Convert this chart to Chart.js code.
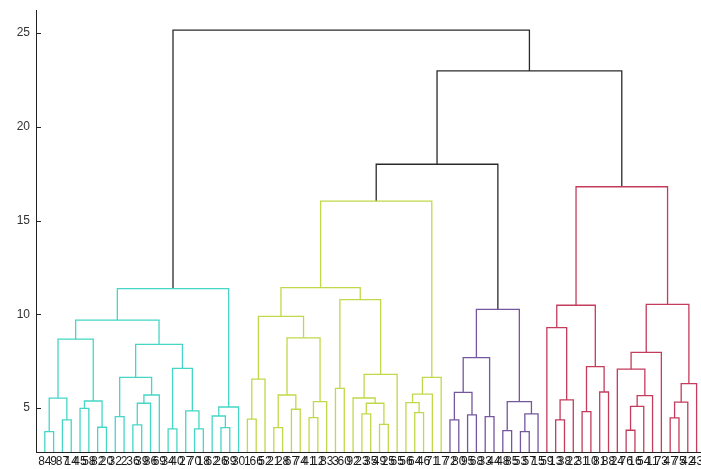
<!DOCTYPE html>
<html>
<head>
<meta charset="utf-8">
<script src="https://cdn.jsdelivr.net/npm/chart.js@4/dist/chart.umd.min.js"></script>
<style>
  html, body { margin: 0; padding: 0; background: #fff; }
  canvas { display: block; }
</style>
</head>
<body>
<canvas id="c" width="701" height="469"></canvas>
<script>
// Leaf labels, left to right in dendrogram order
const leafLabels = [
  '84','9','87','14','45','58','82','20','32','2','36','39','86','69','34','40','27','70','18','62','26','89','30',
  '1','66','52','21','28','67','74','41','12','83','3','60','92','23','35','49','25','65','56','64','46','71','17',
  '72','80','95','68','33','44','48','85','53','57','15',
  '59','13','38','22','31','10','81','88','24','76','16','54','11','73','47','75','42','43'
];

// Linkage: nodes 1..75 are leaves (in display order), node 75+k is the k-th merge
const mergeLeft = [
  1, 3, 76, 5, 7, 79, 78, 9, 11, 84, 85, 83, 15, 18, 17, 88, 87, 82, 21, 20, 95, 93,
  24, 98, 27, 29, 100, 31, 103, 102, 99, 34, 37, 39, 108, 36, 111, 107, 106, 43, 42, 116, 117, 114,
  47, 49, 120, 51, 122, 53, 55, 126, 125, 124,
  59, 130, 58, 62, 64, 133, 132, 67, 137, 138, 66, 140, 72, 142, 143, 141, 136,
  119, 147, 97
];
const mergeRight = [
  2, 4, 77, 6, 8, 80, 81, 10, 12, 13, 14, 86, 16, 19, 89, 90, 91, 92, 22, 94, 23, 96,
  25, 26, 28, 30, 101, 32, 33, 104, 105, 35, 38, 40, 109, 110, 41, 112, 113, 44, 115, 45, 46, 118,
  48, 50, 121, 52, 123, 54, 56, 57, 127, 128,
  60, 61, 131, 63, 65, 134, 135, 68, 69, 70, 139, 71, 73, 74, 75, 144, 145,
  129, 146, 148
];
const mergeHeight = [
  3.74, 4.36, 5.52, 4.98, 3.97, 5.37, 8.67, 4.54, 4.10, 5.25, 5.69, 6.63, 3.88, 3.88, 4.84, 7.11, 8.39, 9.68, 3.95, 4.57, 5.05, 11.37,
  4.40, 6.54, 3.95, 4.93, 5.69, 4.48, 5.34, 8.74, 9.89, 6.04, 4.68, 4.12, 5.25, 5.53, 6.79, 10.78, 11.42, 4.75, 5.28, 5.74, 6.63, 16.03,
  4.36, 4.63, 5.83, 4.54, 7.68, 3.79, 3.74, 4.68, 5.34, 10.26,
  4.36, 5.43, 9.29, 4.80, 5.85, 7.20, 10.48, 3.81, 5.08, 5.66, 7.07, 7.96, 4.47, 5.31, 6.30, 10.53, 16.80,
  18.00, 22.98, 25.16
];

const yTickValues = [5, 10, 15, 20, 25];
const yLimits = [2.65, 26.23];
const clusterColors = ['#45d6c6', '#c2d84a', '#74579e', '#c43c5c'];
const linkColorAbove = '#2a2a2a';

// ---- tree layout: x of a merge is the mean of its children ----
const nLeaves = leafLabels.length;
const nodeX = [], nodeH = [], parent = [];
for (let i = 1; i <= nLeaves; i++) { nodeX[i] = i; nodeH[i] = 0; }
mergeLeft.forEach((l, k) => {
  const id = nLeaves + 1 + k, r = mergeRight[k];
  nodeX[id] = (nodeX[l] + nodeX[r]) / 2;
  nodeH[id] = mergeHeight[k];
  parent[l] = id; parent[r] = id;
});

// colour groups below 70% of the tallest link
const threshold = 0.7 * Math.max(...mergeHeight);
const clusterRoots = [];
mergeHeight.forEach((h, k) => {
  const id = nLeaves + 1 + k, p = parent[id];
  if (h < threshold && (p === undefined || nodeH[p] >= threshold)) clusterRoots.push(id);
});
clusterRoots.sort((a, b) => nodeX[a] - nodeX[b]);
function linkColor(id) {
  if (nodeH[id] >= threshold) return linkColorAbove;
  let n = id;
  while (!clusterRoots.includes(n)) n = parent[n];
  return clusterColors[clusterRoots.indexOf(n) % clusterColors.length];
}

const datasets = mergeLeft.map((l, k) => {
  const id = nLeaves + 1 + k, r = mergeRight[k], h = mergeHeight[k];
  return {
    data: [
      { x: nodeX[l], y: nodeH[l] },
      { x: nodeX[l], y: h },
      { x: nodeX[r], y: h },
      { x: nodeX[r], y: nodeH[r] }
    ],
    showLine: true,
    borderColor: linkColor(id),
    borderWidth: 1.3,
    pointRadius: 0,
    tension: 0,
    fill: false
  };
});

// inward tick marks on the value axis
const innerTicks = {
  id: 'innerTicks',
  afterDraw(chart) {
    const ctx = chart.ctx, ys = chart.scales.y, a = chart.chartArea;
    ctx.save();
    ctx.strokeStyle = '#222';
    ctx.lineWidth = 1;
    yTickValues.forEach(v => {
      const py = Math.round(ys.getPixelForValue(v)) + 0.5;
      ctx.beginPath();
      ctx.moveTo(a.left, py);
      ctx.lineTo(a.left + 5, py);
      ctx.stroke();
    });
    ctx.restore();
  }
};

new Chart(document.getElementById('c'), {
  type: 'scatter',
  data: { datasets },
  plugins: [innerTicks],
  options: {
    responsive: false,
    animation: false,
    devicePixelRatio: 1,
    layout: { padding: { top: 10, right: 0, left: 0, bottom: 0 } },
    plugins: { legend: { display: false }, tooltip: { enabled: false } },
    scales: {
      x: {
        type: 'linear',
        min: 0,
        max: nLeaves + 0.5,
        grid: { display: false, drawTicks: false },
        border: { display: true, color: '#222', width: 1 },
        afterBuildTicks: s => { s.ticks = leafLabels.map((_, i) => ({ value: i + 1 })); },
        afterFit: s => { s.height = 17; s.paddingLeft = 0; s.paddingRight = 0; },
        ticks: {
          autoSkip: false,
          maxRotation: 0,
          minRotation: 0,
          padding: 2,
          color: '#1a1a1a',
          font: { family: '"Liberation Sans", Arial, sans-serif', size: 12 },
          callback: v => leafLabels[v - 1]
        }
      },
      y: {
        type: 'linear',
        min: yLimits[0],
        max: yLimits[1],
        grid: { display: false, drawTicks: false },
        border: { display: true, color: '#222', width: 1 },
        afterBuildTicks: s => { s.ticks = yTickValues.map(v => ({ value: v })); },
        afterFit: s => { s.width = 36; s.paddingTop = 0; s.paddingBottom = 0; },
        ticks: {
          padding: 6,
          color: '#333',
          font: { family: '"Liberation Sans", Arial, sans-serif', size: 12 }
        }
      }
    }
  }
});
</script>
</body>
</html>
